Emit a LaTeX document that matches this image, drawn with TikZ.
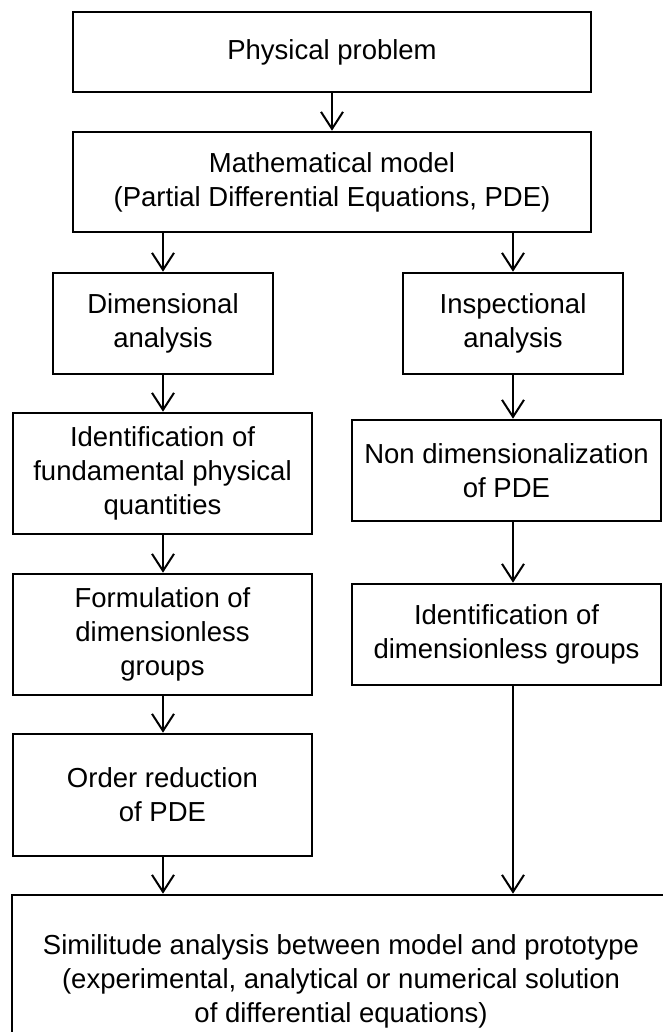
\documentclass[tikz,border=0pt]{standalone}
\usepackage{fontspec}
\setmainfont{Liberation Sans}
\usetikzlibrary{positioning}
\usetikzlibrary{arrows.meta}

\tikzset{
  flowbox/.style={draw, line width=2.6pt, align=center, inner sep=0pt,
    font=\fontsize{27.5}{34}\selectfont},
  flowarrow/.style={line width=2pt,
    -{Straight Barb[length=17pt,width=22pt,line width=2pt]}}
}

\begin{document}
\begin{tikzpicture}[x=1pt, y=-1pt]  % one unit is one pixel of the page, y runs downwards
    \useasboundingbox (0,0) rectangle (663,1032);

    % Top of the chart
    \node[flowbox, minimum width=518pt, minimum height=80pt] (phys) at (332,52) {Physical problem};
    \node[flowbox, minimum width=518pt, minimum height=100pt] (model) at (332,182)
        {Mathematical model\\(Partial Differential Equations, PDE)};

    % Left branch
    \node[flowbox, minimum width=220pt, minimum height=101pt] (dim) at (163,323.5) {Dimensional\\analysis};
    \node[flowbox, minimum width=299pt, minimum height=121pt] (fund) at (162.5,473.5)
        {Identification of\\fundamental physical\\quantities};
    \node[flowbox, minimum width=299pt, minimum height=121pt] (form) at (162.5,634.5)
        {Formulation of\\dimensionless\\groups};
    \node[flowbox, minimum width=299pt, minimum height=122pt] (order) at (162.5,795) {Order reduction\\of PDE};

    % Right branch
    \node[flowbox, minimum width=220pt, minimum height=101pt] (insp) at (513,323.5) {Inspectional\\analysis};
    \node[flowbox, minimum width=309pt, minimum height=101pt] (nondim) at (506.5,470.5)
        {Non dimensionalization\\of PDE};
    \node[flowbox, minimum width=309pt, minimum height=101pt] (groups) at (506.5,634.5)
        {Identification of\\dimensionless groups};

    % Bottom box, cut by the page edge
    \node[flowbox, minimum width=658pt, minimum height=172pt] (simil) at (341,981)
        {Similitude analysis between model and prototype\\(experimental, analytical or numerical solution\\of differential equations)};

    % Arrows
    \draw[flowarrow] (phys) -- (model);
    \draw[flowarrow] (model.south -| dim) -- (dim);
    \draw[flowarrow] (model.south -| insp) -- (insp);
    \draw[flowarrow] (dim) -- (fund.north -| dim);
    \draw[flowarrow] (fund.south -| dim) -- (form.north -| dim);
    \draw[flowarrow] (form.south -| dim) -- (order.north -| dim);
    \draw[flowarrow] (order.south -| dim) -- (simil.north -| dim);
    \draw[flowarrow] (insp) -- (nondim.north -| insp);
    \draw[flowarrow] (nondim.south -| insp) -- (groups.north -| insp);
    \draw[flowarrow] (groups.south -| insp) -- (simil.north -| insp);
\end{tikzpicture}
\end{document}
